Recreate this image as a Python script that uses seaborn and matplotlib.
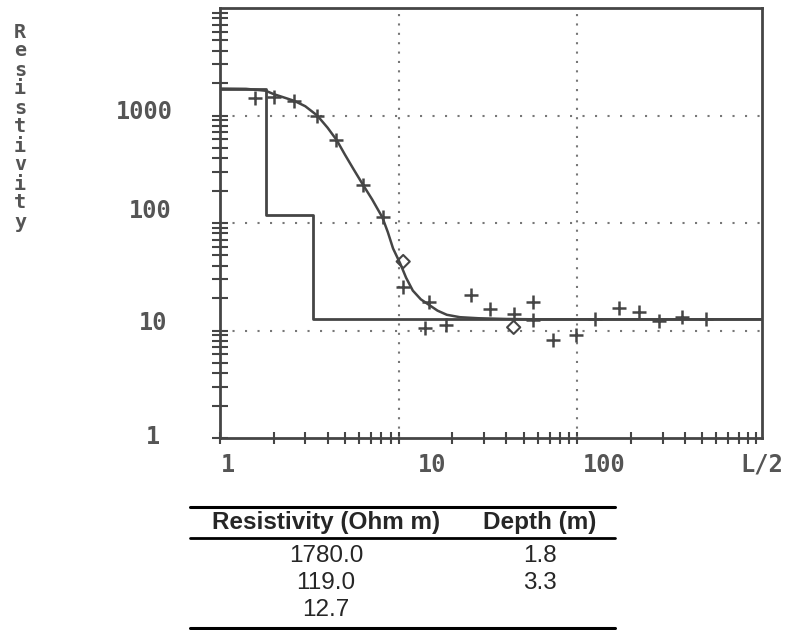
import numpy as np
import pandas as pd
import matplotlib
matplotlib.use("Agg")
import matplotlib.pyplot as plt
import matplotlib.transforms as mtransforms
from matplotlib.lines import Line2D
from matplotlib.ticker import LogLocator, NullFormatter, FixedLocator
import seaborn as sns

# ---------------- data ----------------
# inverted layer model (table)
layer_resistivity = [1780.0, 119.0, 12.7]
layer_depth = [1.8, 3.3]

# field measurements (crosses)
obs_x = [1.57, 2.0, 2.6, 3.5, 4.47, 6.28, 8.13, 10.6, 14.8, 14.0, 18.3, 25.5,
         32.5, 44.0, 56.7, 56.7, 72.9, 98.4, 126, 170, 220, 287, 386, 523]
obs_y = [1450, 1490, 1370, 1000, 592, 228, 113, 25.6, 18.3, 10.5, 11.3, 21.3,
         15.7, 14.2, 18.4, 12.4, 8.15, 9.1, 12.8, 16.2, 14.9, 12.3, 13.3, 12.9]

# special measurements (diamonds)
dia_x = [10.6, 44.0]
dia_y = [43.8, 10.7]

# fitted apparent-resistivity curve
curve_x = [1.0, 1.4, 1.8, 2.0, 2.6, 3.0, 3.5, 4.0, 4.5, 5.0, 5.6, 6.3, 7.1,
           8.1, 8.7, 9.3, 10.2, 11.0, 12.0, 13.3, 14.8, 16.5, 18.6, 22.0,
           28.0, 40.0, 60.0, 1080.0]
curve_y = [1780, 1770, 1700, 1580, 1370, 1220, 1000, 770, 590, 433, 315, 228,
           166, 113, 82, 58, 42, 31, 23.5, 19.5, 17.3, 15.3, 14.0, 13.3,
           13.0, 12.8, 12.7, 12.7]

x_ticks = [1, 10, 100, 1000]
x_ticklabels = ["1", "10", "100", "L/2"]
y_ticks = [1, 10, 100, 1000]
y_ticklabels = ["1", "10", "100", "1000"]
grid_x = [10, 100]
grid_y = [10, 100, 1000]
table_header = ["Resistivity (Ohm m)", "Depth (m)"]
y_label = "Resistivity"

# ---------------- style ----------------
sns.set_style("white")
plt.rcParams['font.family'] = ['DejaVu Sans']

INK = "#454545"
GRID = "#777777"
LABEL = "#555555"
MONO = "DejaVu Sans Mono"

W, H = 798, 630
fig = plt.figure(figsize=(W / 100, H / 100), dpi=100)
fig.patch.set_facecolor("white")

ax_l, ax_r, ax_b, ax_t = 220, 762, 438, 8
ax = fig.add_axes([ax_l / W, 1 - ax_b / H, (ax_r - ax_l) / W, (ax_b - ax_t) / H])
ax.set_xscale("log")
ax.set_yscale("log")
ax.set_xlim(1, 1080)
ax.set_ylim(1, 10000)
ax.set_facecolor("white")

# dotted grid
for gx in grid_x:
    ax.axvline(gx, color=GRID, lw=1.5, ls=(0, (1, 3.5)), zorder=1)
for gy in grid_y:
    ax.axhline(gy, color=GRID, lw=1.5, ls=(0, (1, 5)), zorder=1)

# step model line built from the layer table
edges = [1.0] + layer_depth + [1080.0]
step_x, step_y = [], []
for i, r in enumerate(layer_resistivity):
    step_x += [edges[i], edges[i + 1]]
    step_y += [r, r]
sns.lineplot(x=step_x, y=step_y, sort=False, estimator=None, color=INK,
             lw=2.0, ax=ax, zorder=3)

# fitted curve
sns.lineplot(x=curve_x, y=curve_y, sort=False, estimator=None, color=INK,
             lw=1.8, ax=ax, zorder=3)

# measurements
sns.scatterplot(x=obs_x, y=obs_y, marker="+", s=110, color=INK,
                linewidth=1.8, ax=ax, zorder=4)
sns.scatterplot(x=dia_x, y=dia_y, marker="D", s=45, facecolor="none",
                edgecolor=INK, linewidth=1.5, ax=ax, zorder=4)

# spines
for sp in ax.spines.values():
    sp.set_visible(True)
    sp.set_color(INK)
    sp.set_linewidth(2.0)

# ticks
ax.xaxis.set_major_locator(FixedLocator(x_ticks))
ax.yaxis.set_major_locator(FixedLocator(y_ticks))
ax.xaxis.set_minor_locator(LogLocator(base=10, subs=range(2, 10), numticks=20))
ax.yaxis.set_minor_locator(LogLocator(base=10, subs=range(2, 10), numticks=20))
ax.xaxis.set_minor_formatter(NullFormatter())
ax.yaxis.set_minor_formatter(NullFormatter())
ax.set_xticklabels(x_ticklabels)
ax.set_yticklabels(y_ticklabels)
ax.tick_params(axis="x", which="both", direction="inout", length=9, width=1.5,
               color=INK, bottom=True, top=False, pad=6, labelsize=17,
               labelcolor=LABEL)
ax.tick_params(axis="y", which="both", direction="inout", length=12, width=1.5,
               color=INK, left=True, right=False, pad=30, labelsize=17,
               labelcolor=LABEL)

x_off = [8, 33, 27, 6]
for lbl, dx in zip(ax.get_xticklabels(), x_off):
    lbl.set_fontfamily(MONO)
    lbl.set_fontweight("bold")
    lbl.set_transform(lbl.get_transform() +
                      mtransforms.ScaledTranslation(dx / 100, 0, fig.dpi_scale_trans))
y_off = [(-10, 3), (-3, 10), (2, 15), (3, 6)]
for lbl, (dx, dy) in zip(ax.get_yticklabels(), y_off):
    lbl.set_fontfamily(MONO)
    lbl.set_fontweight("bold")
    lbl.set_transform(lbl.get_transform() +
                      mtransforms.ScaledTranslation(dx / 100, dy / 100, fig.dpi_scale_trans))

# stacked vertical axis label
ax.set_ylabel("\n".join(y_label), rotation=0, fontfamily=MONO, fontweight="bold",
              fontsize=14.5, color=LABEL, linespacing=1.0, ha="center", va="center")
ax.yaxis.set_label_coords((20 - ax_l) / (ax_r - ax_l), (ax_b - 127) / (ax_b - ax_t))

# ---------------- table ----------------
TF = ["Liberation Sans", "DejaVu Sans"]
x0, x1 = 190 / W, 615 / W
for yy, lw in [(507, 2.2), (538, 2.0), (628, 2.2)]:
    fig.add_artist(Line2D([x0, x1], [1 - yy / H] * 2, transform=fig.transFigure,
                          color="black", lw=lw))
col_x = [326 / W, 540 / W]
fig.text(col_x[0], 1 - 523 / H, table_header[0], ha="center", va="center",
         fontsize=17.5, fontweight="bold", family=TF)
fig.text(col_x[1], 1 - 523 / H, table_header[1], ha="center", va="center",
         fontsize=17.5, fontweight="bold", family=TF)
row_y = [556, 583, 610]
for i, r in enumerate(layer_resistivity):
    fig.text(col_x[0], 1 - row_y[i] / H, f"{r:.1f}", ha="center", va="center",
             fontsize=17.5, family=TF)
    if i < len(layer_depth):
        fig.text(col_x[1], 1 - row_y[i] / H, f"{layer_depth[i]:.1f}", ha="center",
                 va="center", fontsize=17.5, family=TF)

fig.savefig("out.png", dpi=100, facecolor="white")
